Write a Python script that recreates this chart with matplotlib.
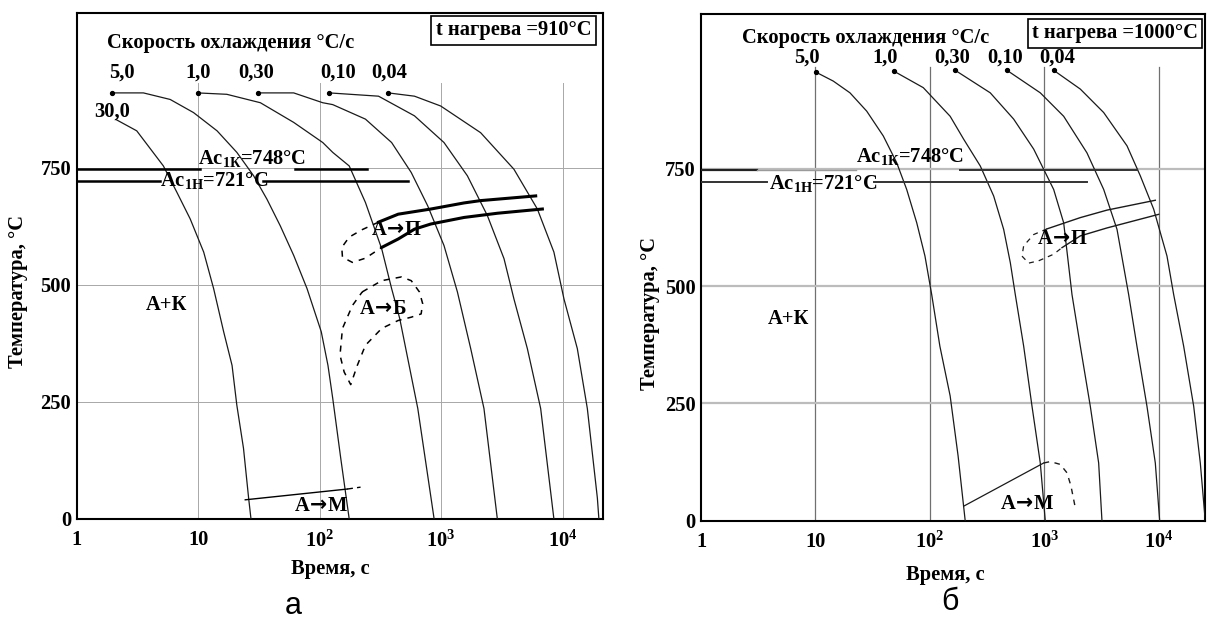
import numpy as np
import matplotlib
matplotlib.use("Agg")
import matplotlib.pyplot as plt

plt.rcParams['font.family'] = ['Liberation Serif', 'DejaVu Serif']
plt.rcParams['font.weight'] = 'bold'
plt.rcParams['mathtext.fontset'] = 'custom'
plt.rcParams['mathtext.rm'] = 'Liberation Serif:bold'
plt.rcParams['mathtext.it'] = 'Liberation Serif:bold'
plt.rcParams['mathtext.bf'] = 'Liberation Serif:bold'

# ---- панель а: t нагрева = 910 °C ----
a_rates = ['30,0', '5,0', '1,0', '0,30', '0,10', '0,04']
a_time = [
    [2.11, 3.12, 5.17, 6.67, 8.59, 11.1, 13.4, 16.2, 19.0, 20.8, 23.6, 26.0, 27.2],
    [1.94, 3.54, 5.88, 9.15, 14.3, 20.8, 28.6, 36.8, 47.4, 61.1, 78.7, 103, 117, 128, 149, 175],
    [9.87, 17.2, 32.5, 61.1, 106, 128, 175, 238, 324, 391, 456, 642, 875],
    [31.1, 61.1, 106, 128, 238, 391, 567, 774, 1055, 1360, 1750, 2250, 2900],
    [120, 305, 603, 1055, 1643, 2400, 3290, 3970, 5120, 6590, 8470],
    [367, 603, 991, 2113, 3970, 6190, 8470, 10250, 13200, 15960, 19300, 19870],
]
a_temp = [
    [853, 829, 754, 698, 641, 570, 492, 400, 328, 243, 151, 45, 0],
    [910, 910, 896, 868, 829, 783, 733, 683, 626, 563, 492, 400, 328, 258, 130, 0],
    [910, 907, 889, 847, 804, 783, 754, 676, 577, 492, 428, 236, 0],
    [910, 910, 889, 885, 854, 804, 740, 669, 584, 485, 364, 236, 0],
    [910, 903, 861, 804, 733, 648, 556, 470, 364, 236, 0],
    [910, 903, 882, 825, 747, 662, 570, 470, 364, 236, 45, 0],
]
# перлитное превращение
a_p1_time = [305, 443, 822, 1542, 2113, 5996]
a_p1_temp = [634, 651, 662, 675, 680, 690]
a_p2_time = [324, 443, 603, 822, 1542, 2904, 6806]
a_p2_temp = [580, 598, 619, 630, 644, 653, 662]
a_pn_time = [305, 224, 175, 152, 154, 186, 238, 324]
a_pn_temp = [634, 618, 602, 580, 559, 548, 557, 580]
# бейнитная область
a_b_time = [224, 324, 471, 567, 662, 704, 684, 567, 443, 324, 238, 204, 180, 159, 147, 154, 186, 224]
a_b_temp = [485, 509, 517, 509, 485, 460, 438, 431, 424, 407, 371, 328, 287, 314, 350, 407, 456, 485]
# мартенсит
a_m_time = [24.4, 169]
a_m_temp = [41, 64]
a_md_time = [169, 217]
a_md_temp = [64, 68]

# ---- панель б: t нагрева = 1000 °C ----
b_rates = ['5,0', '1,0', '0,30', '0,10', '0,04']
b_time = [
    [10.1, 14.3, 20.0, 28.0, 39.1, 51.2, 62.6, 76.6, 90.4, 103.5, 122, 150, 176, 203],
    [48.5, 87.4, 150, 197, 275, 360, 440, 503, 556, 658, 778, 919, 1016],
    [166, 336, 538, 805, 1203, 1471, 1739, 2056, 2513, 2973, 3177],
    [470, 919, 1471, 2350, 3290, 4300, 5435, 6420, 7853, 9290, 10140],
    [1203, 2055, 3288, 5258, 6872, 8991, 11750, 13440, 16430, 20100, 22960, 25360],
]
b_temp = [
    [956, 937, 912, 873, 820, 763, 706, 635, 564, 482, 372, 266, 138, 0],
    [958, 923, 862, 813, 756, 692, 621, 550, 482, 372, 244, 123, 0],
    [960, 912, 856, 792, 706, 635, 482, 372, 244, 123, 0],
    [960, 912, 862, 784, 706, 621, 482, 372, 244, 123, 0],
    [960, 920, 870, 799, 735, 664, 564, 482, 372, 244, 123, 0],
]
b_p1_time = [1052, 2055, 3516, 9290]
b_p1_temp = [622, 646, 662, 683]
b_p2_time = [1422, 2055, 3516, 9940]
b_p2_temp = [582, 607, 624, 653]
b_pn_time = [1052, 806, 658, 636, 727, 890, 1203, 1422]
b_pn_temp = [622, 610, 586, 564, 549, 554, 568, 582]
b_m_time = [197, 984]
b_m_temp = [31, 123]
b_md_time = [984, 1125, 1374, 1573, 1703, 1857]
b_md_temp = [123, 126, 120, 102, 74, 28]

xticks = [1, 10, 100, 1000, 10000]
xtick_labels = ['1', '10', r'$10^{2}$', r'$10^{3}$', r'$10^{4}$']
yticks = [0, 250, 500, 750]
ac1k, ac1h = 748, 721

fig = plt.figure(figsize=(12.07, 6.19), dpi=100)
ax_a = fig.add_axes([76.7 / 1207, 100 / 619, 526.3 / 1207, 505.7 / 619])
ax_b = fig.add_axes([701 / 1207, 98.3 / 619, 504 / 1207, 506.7 / 619])

fs = 14.8
lc = '#1a1a1a'


def arrow_label(ax, x, y, a, b):
    # стрелка жирнее, чем в Liberation Serif
    ax.text(x, y, a + r'$\!\rightarrow\!$' + b, fontsize=fs, ha='center',
            va='center', zorder=5, math_fontfamily='dejavusans')


def setup(ax, xmax, vcol, vlw, hcol, hlw, vtop):
    ax.set_xscale('log')
    ax.set_xlim(1, xmax)
    ax.set_ylim(0, 1080)
    for x in xticks[1:]:
        ax.plot([x, x], [0, vtop], color=vcol, lw=vlw, zorder=1)
    for y in yticks[1:]:
        ax.axhline(y, color=hcol, lw=hlw, zorder=1)
    ax.set_xticks(xticks)
    ax.set_xticklabels(xtick_labels)
    ax.xaxis.set_minor_locator(matplotlib.ticker.NullLocator())
    ax.set_yticks(yticks)
    ax.tick_params(length=0, labelsize=fs, pad=4)
    ax.tick_params(axis='x', pad=8)
    for s in ax.spines.values():
        s.set_linewidth(1.5)
        s.set_color('black')
    ax.set_xlabel('Время, с', fontsize=fs, fontweight='bold')
    ax.set_ylabel('Температура, °С', fontsize=fs, fontweight='bold')


# ---------- а ----------
ax = ax_a
setup(ax, 10 ** 4.332, '#a8a8a8', 0.7, '#a8a8a8', 0.7, 932)
ax.xaxis.set_label_coords(0.481, -0.079)
ax.yaxis.set_label_coords(-0.0925, 0.449)

for i, (tt, TT) in enumerate(zip(a_time, a_temp)):
    ax.plot(tt, TT, color=lc, lw=0.9, zorder=3)
    if i > 0:
        ax.plot(tt[0], TT[0], 'o', color='black', ms=2.8, zorder=4)

# Ac1 линии
ax.plot([1, 10.3], [ac1k, ac1k], color='black', lw=1.8, zorder=3)
ax.plot([62.7, 245], [ac1k, ac1k], color='black', lw=1.8, zorder=3)
ax.plot([1, 4.85], [ac1h, ac1h], color='black', lw=1.8, zorder=3)
ax.plot([34.3, 533], [ac1h, ac1h], color='black', lw=1.8, zorder=3)
ax.text(10.0, 770, r'Ac$_{1К}$=748°C', fontsize=fs, ha='left', va='center', zorder=5)
ax.text(4.85, 722, r'Ac$_{1Н}$=721°C', fontsize=fs, ha='left', va='center', zorder=5)

ax.plot(a_p1_time, a_p1_temp, color='black', lw=2.2, zorder=3)
ax.plot(a_p2_time, a_p2_temp, color='black', lw=2.2, zorder=3)
ax.plot(a_pn_time, a_pn_temp, color='black', lw=1.1, ls=(0, (4, 4)), zorder=3)
ax.plot(a_b_time, a_b_temp, color='black', lw=1.1, ls=(0, (4, 4)), zorder=3)
ax.plot(a_m_time, a_m_temp, color='black', lw=1.0, zorder=3)
ax.plot(a_md_time, a_md_temp, color='black', lw=1.0, ls=(0, (4, 3)), zorder=3)

a_lab_pos = [(1.94, 871), (2.35, 953), (10.06, 953), (29.9, 953), (141, 953), (372, 953)]
for lab, (x, y) in zip(a_rates, a_lab_pos):
    ax.text(x, y, lab, fontsize=fs, ha='center', va='center', zorder=5)

ax.text(5.52, 456, 'А+К', fontsize=fs, ha='center', va='center', zorder=5)
arrow_label(ax, 429, 617, 'А', 'П')
arrow_label(ax, 330, 449, 'А', 'Б')
arrow_label(ax, 102, 28, 'А', 'М')

ax.text(0.0576, 0.941, 'Скорость охлаждения °С/с', transform=ax.transAxes,
        fontsize=fs, ha='left', va='center')
ax.text(0.978, 0.966, 't нагрева =910°C', transform=ax.transAxes, fontsize=fs,
        ha='right', va='center',
        bbox=dict(boxstyle='square,pad=0.22', fc='white', ec='black', lw=1.2))

# ---------- б ----------
ax = ax_b
setup(ax, 10 ** 4.402, '#707070', 0.9, '#bcbcbc', 1.6, 966)
ax.xaxis.set_label_coords(0.484, -0.087)
ax.yaxis.set_label_coords(-0.081, 0.409)

for tt, TT in zip(b_time, b_temp):
    ax.plot(tt, TT, color=lc, lw=0.9, zorder=3)
    ax.plot(tt[0], TT[0], 'o', color='black', ms=2.8, zorder=4)

ax.plot([1, 3.08], [ac1k, ac1k], color='#222222', lw=1.6, zorder=3)
ax.plot([3.08, 22.6], [ac1k, ac1k], color='#9a9a9a', lw=1.0, zorder=3)
ax.plot([183, 6420], [ac1k, ac1k], color='#333333', lw=1.4, zorder=3)
ax.plot([1, 3.77], [ac1h, ac1h], color='#333333', lw=1.4, zorder=3)
ax.plot([32.4, 2350], [ac1h, ac1h], color='#333333', lw=1.4, zorder=3)
ax.text(22.6, 777, r'Ac$_{1К}$=748°C', fontsize=fs, ha='left', va='center', zorder=5)
ax.text(3.93, 718, r'Ac$_{1Н}$=721°C', fontsize=fs, ha='left', va='center', zorder=5)

ax.plot(b_p1_time, b_p1_temp, color=lc, lw=1.0, zorder=3)
ax.plot(b_p2_time, b_p2_temp, color=lc, lw=1.0, zorder=3)
ax.plot(b_pn_time, b_pn_temp, color=lc, lw=0.9, ls=(0, (4, 4)), zorder=3)
ax.plot(b_m_time, b_m_temp, color=lc, lw=0.9, zorder=3)
ax.plot(b_md_time, b_md_temp, color=lc, lw=1.0, ls=(0, (4, 4)), zorder=3)

b_lab_pos = [(8.5, 987), (40.4, 987), (156, 987), (452, 987), (1285, 987)]
for lab, (x, y) in zip(b_rates, b_lab_pos):
    ax.text(x, y, lab, fontsize=fs, ha='center', va='center', zorder=5)

ax.text(5.79, 429, 'А+К', fontsize=fs, ha='center', va='center', zorder=5)
arrow_label(ax, 1449, 600, 'А', 'П')
arrow_label(ax, 703, 35, 'А', 'М')

ax.text(0.0806, 0.952, 'Скорость охлаждения °С/с', transform=ax.transAxes,
        fontsize=fs, ha='left', va='center')
ax.text(0.986, 0.962, 't нагрева =1000°C', transform=ax.transAxes, fontsize=fs,
        ha='right', va='center',
        bbox=dict(boxstyle='square,pad=0.22', fc='white', ec='black', lw=1.2))

# подписи панелей
fig.text(0.243, 0.021, 'а', fontsize=22, fontweight='normal', ha='center', va='center',
         family=['Liberation Sans Narrow', 'Liberation Sans'])
fig.text(0.787, 0.027, 'б', fontsize=22, fontweight='normal', ha='center', va='center',
         family=['Liberation Sans Narrow', 'Liberation Sans'])

fig.savefig('out.png', dpi=100)
